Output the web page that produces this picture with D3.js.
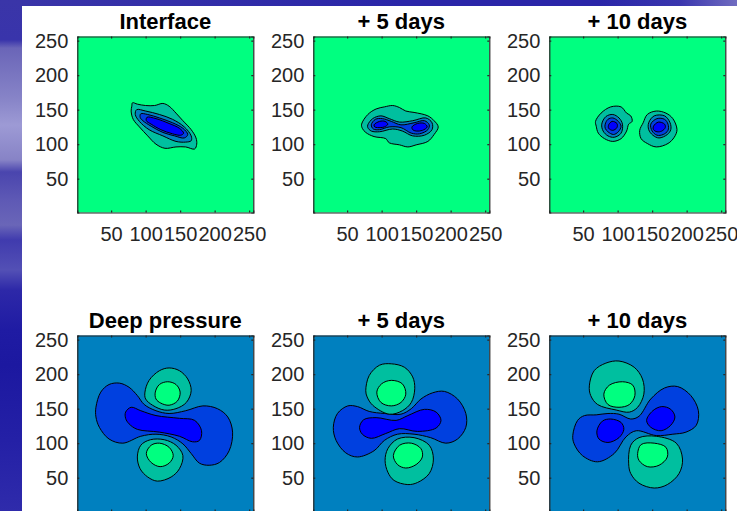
<!DOCTYPE html>
<html>
<head>
<meta charset="utf-8">
<script src="https://cdn.jsdelivr.net/npm/d3@7"></script>
<style>
html,body{margin:0;padding:0;background:#fff;overflow:hidden}
svg{display:block}
text{font-family:"Liberation Sans",Arial,sans-serif}
</style>
</head>
<body>
<div id="chart"></div>
<script>
const panelTitles = ["Interface","+ 5 days","+ 10 days","Deep pressure","+ 5 days","+ 10 days"];
const tickValues = [50,100,150,200,250];
const levelColors = ["#0000FF","#0040DF","#0080BF","#00BF9F","#00FF80"];
const sideStops = [[0,"#3A35A8"],[40,"#3934AB"],[48,"#6A65B8"],[100,"#8885C8"],[125,"#9D9AD5"],[160,"#8783C6"],[172,"#4A45AE"],[200,"#5E59B5"],[225,"#6A66B8"],[240,"#403BAE"],[270,"#5350B5"],[290,"#2D28A8"],[330,"#1F1BA3"],[365,"#1C18A0"],[440,"#2420A6"],[511,"#2F2BAB"]];
const topStops = [[0,"#3A35A8"],[400,"#2A26A8"],[600,"#2A26A8"],[680,"#3A36AE"],[737,"#706CC0"]];

// Filled contours, [level index, points in data units], painted in order.
const interface0 = [
 [3,[[81,160],[88,158],[100,156],[113,156],[125,159],[134,155],[144,145],[154,134],[166,121],[173,109],[174,100],[171,93],[158,96],[144,96],[128,94],[115,100],[103,112],[91,125],[82,136],[79,148],[80,155]]],
 [2,[[87,150],[100,148],[120,143],[139,136],[156,125],[166,112],[166,105],[158,103],[144,104],[125,112],[105,121],[91,133],[85,143]]],
 [1,[[93,144],[103,143],[120,138],[139,131],[154,123],[161,114],[156,109],[142,112],[125,117],[108,126],[96,134],[92,139]]],
 [0,[[102,139],[115,137],[134,130],[149,123],[155,116],[151,113],[139,115],[122,121],[108,129],[101,134]]]
];
const interface5 = [
 [3,[[71,129],[80,143],[92,151],[104,154],[116,156],[126,153],[135,148],[147,146],[167,141],[176,134],[182,125],[176,114],[167,104],[150,99],[138,96],[126,99],[111,102],[106,108],[89,111],[77,117],[72,123]]],
 [2,[[80,128],[87,137],[99,141],[111,137],[126,132],[145,134],[164,138],[173,131],[173,121],[162,113],[145,112],[130,119],[116,122],[97,118],[85,119],[80,124]]],
 [1,[[85,128],[91,136],[101,137],[114,133],[128,128],[147,131],[162,134],[169,128],[167,121],[155,115],[143,116],[128,124],[111,125],[97,121],[88,122]]],
 [0,[[89,128],[97,133],[105,133],[109,129],[104,125],[94,124],[90,125]]],
 [0,[[144,125],[152,130],[162,130],[166,125],[159,120],[150,119],[145,121]]]
];
const interface10 = [
 [3,[[68,133],[76,145],[90,154],[105,154],[113,145],[119,141],[121,133],[116,129],[113,119],[105,108],[93,104],[81,108],[72,116],[69,126]]],
 [2,[[77,129],[83,140],[93,143],[102,138],[107,129],[105,116],[95,110],[86,112],[79,119]]],
 [1,[[82,129],[86,136],[93,138],[101,133],[105,126],[101,118],[94,114],[86,118],[82,123]]],
 [0,[[87,128],[92,133],[99,130],[99,124],[93,120],[87,123]]],
 [3,[[132,120],[137,131],[143,143],[156,148],[170,145],[180,137],[186,121],[182,110],[173,101],[156,96],[143,101],[134,108]]],
 [2,[[145,131],[153,141],[168,141],[176,131],[177,121],[172,114],[160,109],[151,113],[145,121]]],
 [1,[[148,129],[157,137],[168,136],[173,129],[173,120],[166,114],[157,113],[150,119]]],
 [0,[[152,126],[159,132],[168,129],[169,124],[164,119],[157,118],[152,121]]]
];
const deep0 = [
 [1,[[28,152],[35,174],[47,185],[62,187],[76,181],[88,169],[98,156],[115,147],[134,143],[158,147],[183,154],[204,150],[219,138],[226,116],[221,89],[207,72],[192,68],[178,71],[166,85],[154,99],[137,109],[115,113],[93,110],[67,100],[47,106],[33,123],[28,138]]],
 [0,[[71,145],[79,152],[93,147],[115,140],[149,136],[171,133],[181,118],[178,104],[168,102],[149,110],[120,116],[88,120],[76,128],[71,136]]],
 [3,[[99,174],[105,191],[120,205],[134,209],[149,205],[161,193],[166,176],[159,159],[144,150],[127,148],[110,155],[100,164]]],
 [4,[[114,174],[120,185],[132,189],[144,185],[150,174],[146,161],[134,155],[122,158],[115,164]]],
 [3,[[88,80],[93,97],[107,105],[127,105],[144,97],[154,82],[149,63],[137,51],[117,45],[103,51],[92,63]]],
 [4,[[101,85],[108,97],[120,100],[134,94],[140,82],[134,71],[121,66],[108,72]]]
];
const deep5 = [
 [1,[[30,123],[36,143],[51,154],[65,153],[82,146],[104,143],[128,142],[143,150],[157,164],[174,173],[191,175],[210,164],[222,143],[222,123],[210,106],[193,100],[171,108],[147,113],[123,113],[104,104],[89,89],[65,80],[48,86],[34,104]]],
 [0,[[68,123],[74,134],[92,137],[121,133],[138,140],[162,149],[179,145],[186,133],[179,122],[152,117],[126,121],[106,114],[85,107],[72,113]]],
 [3,[[77,176],[82,198],[97,213],[114,215],[133,210],[145,196],[148,179],[143,159],[130,147],[111,142],[87,155],[79,167]]],
 [4,[[93,174],[100,186],[114,191],[130,186],[135,171],[128,159],[114,154],[99,159]]],
 [3,[[105,75],[109,92],[123,106],[147,108],[169,97],[175,77],[169,56],[152,43],[138,40],[118,46],[109,58]]],
 [4,[[117,82],[126,97],[143,100],[157,92],[159,80],[150,69],[135,64],[123,69]]]
];
const deep10 = [
 [1,[[35,111],[42,133],[52,140],[69,141],[86,143],[102,142],[119,135],[131,139],[148,164],[168,180],[187,182],[206,169],[217,147],[214,126],[199,116],[180,113],[156,111],[127,118],[112,109],[95,85],[71,73],[49,82],[37,99]]],
 [0,[[70,118],[78,132],[90,135],[105,130],[109,120],[102,108],[86,101],[73,106]]],
 [0,[[142,133],[151,147],[164,153],[177,149],[183,138],[177,126],[163,118],[148,123]]],
 [3,[[59,183],[66,205],[83,216],[102,219],[124,210],[136,193],[138,171],[129,152],[117,145],[98,148],[71,156],[61,169]]],
 [4,[[80,171],[88,184],[107,189],[122,184],[125,169],[117,156],[102,152],[86,156]]],
 [3,[[116,70],[119,97],[131,108],[156,110],[185,100],[194,77],[189,56],[172,40],[153,35],[131,42],[119,56]]],
 [4,[[129,85],[134,98],[153,100],[170,94],[172,80],[160,68],[143,66],[131,75]]]
];
const panelContours = [interface0,interface5,interface10,deep0,deep5,deep10];
const panelBackground = [4,4,4,2,2,2];

const W = 737, H = 511;
const lefts = [77.3,313.3,549.3], tops = [36.5,335.5], size = 176;
const svg = d3.select("#chart").append("svg").attr("width",W).attr("height",H);
const defs = svg.append("defs");
function gradient(id, stops, max, vertical){
  const g = defs.append("linearGradient").attr("id",id).attr("gradientUnits","userSpaceOnUse")
    .attr("x1",0).attr("y1",0).attr("x2",vertical?0:max).attr("y2",vertical?max:0);
  g.selectAll("stop").data(stops).join("stop").attr("offset",d=>d[0]/max).attr("stop-color",d=>d[1]);
}
gradient("side",sideStops,H,true);
gradient("topg",topStops,W,false);
svg.append("rect").attr("width",W).attr("height",6).attr("fill","url(#topg)");
svg.append("rect").attr("width",22).attr("height",H).attr("fill","url(#side)");

const ink = "#262626";
const line = d3.line().curve(d3.curveCatmullRomClosed.alpha(0.5));

panelContours.forEach((contours,i)=>{
  const col = i%3, row = Math.floor(i/3);
  const x0 = lefts[col], y0 = tops[row];
  const x = d3.scaleLinear().domain([1,256]).range([x0,x0+size]);
  const y = d3.scaleLinear().domain([1,256]).range([y0+size,y0]);
  const g = svg.append("g");
  const clipId = "clip"+i;
  defs.append("clipPath").attr("id",clipId).append("rect").attr("x",x0).attr("y",y0).attr("width",size).attr("height",size);
  g.append("rect").attr("x",x0).attr("y",y0).attr("width",size).attr("height",size).attr("fill",levelColors[panelBackground[i]]);
  g.append("g").attr("clip-path",`url(#${clipId})`).selectAll("path").data(contours).join("path")
    .attr("d",d=>line(d[1].map(p=>[x(p[0]),y(p[1])])))
    .attr("fill",d=>levelColors[d[0]])
    .attr("stroke","#000").attr("stroke-width",1);

  const axB = d3.axisBottom(x).tickValues(tickValues).tickSize(-2).tickPadding(14);
  if(row===1) axB.tickFormat(""); // these labels fall below the picture's edge in the reference
  const axL = d3.axisLeft(y).tickValues(tickValues).tickSize(-2).tickPadding(9);
  const axT = d3.axisTop(x).tickValues(tickValues).tickSize(-2).tickFormat("");
  const axR = d3.axisRight(y).tickValues(tickValues).tickSize(-2).tickFormat("");
  [[axB,`translate(0,${y0+size})`],[axL,`translate(${x0},0)`],[axT,`translate(0,${y0})`],[axR,`translate(${x0+size},0)`]].forEach(([a,t])=>{
    const s = g.append("g").attr("transform",t).call(a);
    s.selectAll("path,line").attr("stroke",ink).attr("stroke-width",1.2);
    s.selectAll("text").attr("fill",ink).style("font-size","20px").style("font-family","'Liberation Sans',Arial,sans-serif");
  });
  g.append("text").attr("x",x0+size/2).attr("y",y0-7.5).attr("text-anchor","middle")
    .attr("fill","#000").style("font-size","22px").style("font-weight","bold").text(panelTitles[i]);
});
</script>
</body>
</html>
